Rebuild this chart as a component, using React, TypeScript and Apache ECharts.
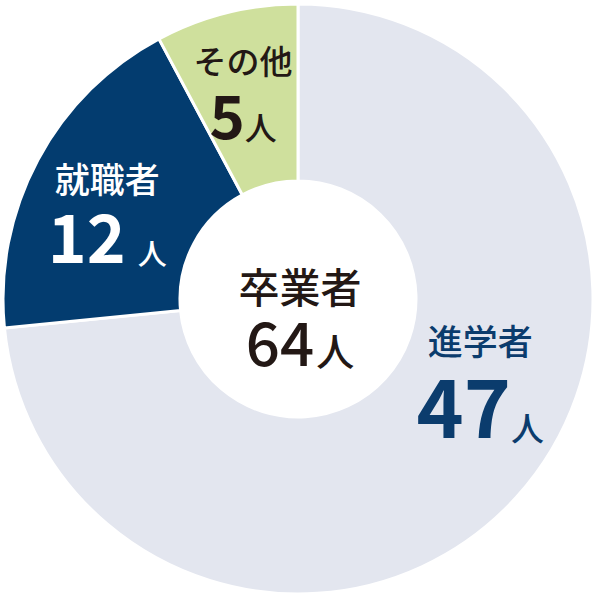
import React, { useEffect, useRef } from 'react'
import * as echarts from 'echarts'

// graduates by course after graduation
const categories = ['進学者', '就職者', 'その他']
const counts = [47, 12, 5]
const unit = '人'
const totalName = '卒業者'

const sliceColors = ['#e3e6ef', '#033c6f', '#cfe09d']
const labelColors = ['#0b3c6d', '#ffffff', '#231815']

const FONT = '"Noto Sans CJK JP", "Noto Sans", sans-serif'

// per-slice label styling / nudges from the default "inside" spot
const nameSizes = [35, 35, 33]
const numSizes = [80, 66, 60]
const unitSizes = [33, 29, 32]
const labelNudge = [
  [27, -60],
  [-6, 10],
  [-4, -6],
]

const App: React.FC = () => {
  const chartRef = useRef<HTMLDivElement>(null)

  useEffect(() => {
    if (!chartRef.current) return
    document.body.style.margin = '0'

    const chart = echarts.init(chartRef.current, undefined, { renderer: 'svg' })
    const total = counts.reduce((a, b) => a + b, 0)

    const rich: Record<string, any> = {}
    categories.forEach((_, i) => {
      rich[`n${i}`] = {
        fontFamily: FONT,
        fontSize: nameSizes[i],
        fontWeight: 500,
        color: labelColors[i],
        lineHeight: nameSizes[i] + 12,
      }
      rich[`v${i}`] = {
        fontFamily: FONT,
        fontSize: numSizes[i],
        fontWeight: 700,
        color: labelColors[i],
        lineHeight: numSizes[i],
      }
      rich[`u${i}`] = {
        fontFamily: FONT,
        fontSize: unitSizes[i],
        fontWeight: 500,
        color: labelColors[i],
        padding: [0, 0, 0, i === 1 ? 12 : 0],
        verticalAlign: 'bottom',
        lineHeight: numSizes[i] - 6,
      }
    })

    chart.setOption({
      animation: false,
      backgroundColor: '#ffffff',
      graphic: [
        {
          type: 'text',
          left: 'center',
          top: 264,
          style: {
            text: totalName,
            fontFamily: FONT,
            fontSize: 41,
            fontWeight: 500,
            lineHeight: 41,
            fill: '#231815',
          },
        },
        {
          type: 'text',
          left: 'center',
          top: 309,
          style: {
            text: `{v|${total}}{u|${unit}}`,
            rich: {
              v: { fontFamily: FONT, fontSize: 60, fontWeight: 500, fill: '#231815', lineHeight: 60 },
              u: {
                fontFamily: FONT,
                fontSize: 38,
                fontWeight: 500,
                fill: '#231815',
                verticalAlign: 'bottom',
                lineHeight: 56,
                padding: [0, 0, 0, 2],
              },
            },
          },
        },
      ],
      series: [
        {
          type: 'pie',
          center: [298, 299],
          radius: [118, 295],
          startAngle: 90,
          clockwise: true,
          silent: true,
          itemStyle: { borderColor: '#ffffff', borderWidth: 3 },
          label: {
            show: true,
            position: 'inside',
            formatter: (p: any) => `{n${p.dataIndex}|${p.name}}\n{v${p.dataIndex}|${p.value}}{u${p.dataIndex}|${unit}}`,
            rich,
          },
          labelLine: { show: false },
          labelLayout: (p: any) => ({
            dx: labelNudge[p.dataIndex][0],
            dy: labelNudge[p.dataIndex][1],
          }),
          data: categories.map((name, i) => ({
            name,
            value: counts[i],
            itemStyle: { color: sliceColors[i] },
          })),
        },
      ],
    })

    return () => {
      chart.dispose()
    }
  }, [])

  return <div ref={chartRef} style={{ width: '600px', height: '600px' }} />
}

export default App
